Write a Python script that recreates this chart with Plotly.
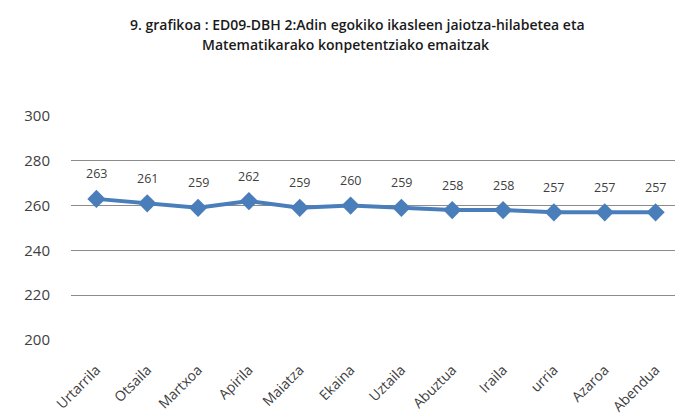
import plotly.graph_objects as go

months = ["Urtarrila", "Otsaila", "Martxoa", "Apirila", "Maiatza", "Ekaina",
          "Uztaila", "Abuztua", "Iraila", "urria", "Azaroa", "Abendua"]
scores = [263, 261, 259, 262, 259, 260, 259, 258, 258, 257, 257, 257]
y_ticks = [200, 220, 240, 260, 280, 300]

title_lines = ["9. grafikoa : ED09-DBH 2:Adin egokiko ikasleen jaiotza-hilabetea eta",
               "Matematikarako konpetentziako emaitzak"]

FONT = "Open Sans, sans-serif"

fig = go.Figure()
fig.add_trace(go.Scatter(
    x=months, y=scores, mode="lines+markers",
    line=dict(color="#4A7EBB", width=4),
    marker=dict(symbol="diamond", size=14, color="#4A7EBB"),
    hoverinfo="skip", showlegend=False,
))

for m, v in zip(months, scores):
    fig.add_annotation(x=m, y=v, text=str(v), showarrow=False, yshift=25,
                       font=dict(family=FONT, size=12.5, color="#404040"))

# title lines
for i, line in enumerate(title_lines):
    fig.add_annotation(xref="paper", yref="paper", x=0.47 - 0.02 * i, y=1.0,
                       yshift=92 - 20 * i, yanchor="middle", xanchor="center",
                       text=line, showarrow=False,
                       font=dict(family=FONT, size=14, color="#1a1a1a", weight=600))

fig.update_layout(
    width=683, height=416,
    margin=dict(l=63, r=10, t=108, b=84, autoexpand=False),
    paper_bgcolor="white", plot_bgcolor="white",
    font=dict(family=FONT, color="#404040"),
)
fig.update_xaxes(type="category", range=[-0.5, len(months) - 0.5],
                 showgrid=False, showline=False, zeroline=False,
                 tickangle=-45, tickfont=dict(size=14, color="#404040"), ticks="",
                 automargin=False, ticklabelstandoff=18)
fig.update_yaxes(range=[200, 300], tickvals=y_ticks, showgrid=True,
                 gridcolor="#8c8c8c", gridwidth=1, zeroline=False, showline=False,
                 tickfont=dict(size=15, color="#404040"), ticks="", ticklabelstandoff=20,
                 automargin=False)

fig.write_html("out.html")
